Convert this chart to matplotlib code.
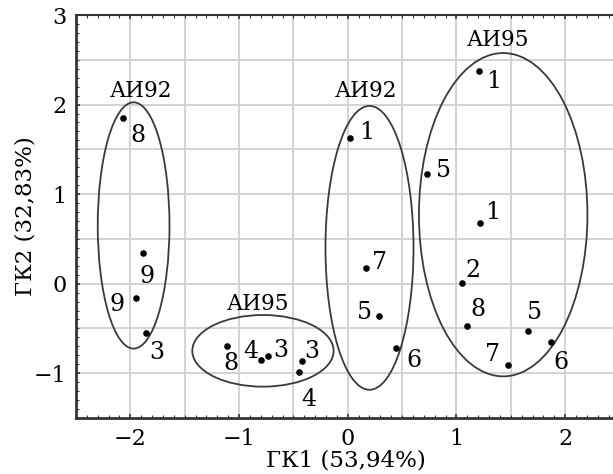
import matplotlib
matplotlib.use("Agg")
import matplotlib.pyplot as plt
from matplotlib.patches import Ellipse
from matplotlib.ticker import MultipleLocator, FuncFormatter

plt.rcParams['font.family'] = ['DejaVu Serif']

# Data points (ГК1, ГК2) and their labels
pt_x = [-2.07, -1.88, -1.95, -1.86,
        -1.11, -0.80, -0.73, -0.42, -0.45,
        0.02, 0.17, 0.29, 0.44,
        0.73, 1.21, 1.22, 1.05, 1.10, 1.66, 1.87, 1.47]
pt_y = [1.85, 0.34, -0.16, -0.55,
        -0.70, -0.85, -0.81, -0.86, -0.99,
        1.63, 0.18, -0.36, -0.72,
        1.23, 2.37, 0.68, 0.01, -0.47, -0.53, -0.65, -0.91]
pt_labels = ['8', '9', '9', '3',
             '8', '4', '3', '3', '4',
             '1', '7', '5', '6',
             '5', '1', '1', '2', '8', '5', '6', '7']
# label placement relative to the point, in pixels (dx to centre, dy to baseline, down positive)
lbl_dx = [15, 4, -19, 11, 4, -10, 12, 10, 10, 17, 13, -15, 18, 16, 14, 12, 11, 11, 6, 10, -15]
lbl_dy = [24, 30, 13, 26, 24, -2, 1, -3, 34, 1, 1, 3, 19, 3, 17, -4, -6, -10, -12, 27, -4]

# Group ellipses: center x, center y, width, height, label
ell_cx = [-1.97, 0.20, 1.43, -0.78]
ell_cy = [0.65, 0.40, 0.77, -0.75]
ell_w = [0.66, 0.81, 1.55, 1.30]
ell_h = [2.75, 3.17, 3.61, 0.80]
grp_labels = ['АИ92', 'АИ92', 'АИ95', 'АИ95']
grp_lx = [-1.90, 0.166, 1.38, -0.83]
grp_ly = [2.086, 2.086, 2.65, -0.293]

fig = plt.figure(figsize=(6.13, 4.74), dpi=100)
ax = fig.add_axes([76/613, 56/474, 543.5/613, 403/474])

ax.set_xlim(-2.5, 2.5)
ax.set_ylim(-1.5, 3.0)

# grid at every 0.5
for gx in [-2.0, -1.5, -1.0, -0.5, 0.0, 0.5, 1.0, 1.5, 2.0]:
    ax.axvline(gx, color='#d0d0d0', lw=1.3, zorder=0)
for gy in [-1.0, -0.5, 0.0, 0.5, 1.0, 1.5, 2.0, 2.5]:
    ax.axhline(gy, color='#d0d0d0', lw=1.3, zorder=0)

for cx, cy, w, h in zip(ell_cx, ell_cy, ell_w, ell_h):
    ax.add_patch(Ellipse((cx, cy), w, h, fill=False, edgecolor='#3a3a3a', lw=1.3, zorder=2))

ax.scatter(pt_x, pt_y, s=14, color='black', zorder=3)
for x, y, t, dx, dy in zip(pt_x, pt_y, pt_labels, lbl_dx, lbl_dy):
    ax.annotate(t, (x, y), xytext=(dx * 0.72, -dy * 0.72), textcoords='offset points',
                fontsize=17, ha='center', va='baseline', zorder=4)

for lx, ly, t in zip(grp_lx, grp_ly, grp_labels):
    ax.text(lx, ly, t, fontsize=15.5, ha='center', va='baseline', zorder=4)

ax.xaxis.set_major_locator(MultipleLocator(1))
ax.yaxis.set_major_locator(MultipleLocator(1))
ax.xaxis.set_minor_locator(MultipleLocator(0.1))
ax.yaxis.set_minor_locator(MultipleLocator(0.1))
ax.tick_params(which='both', direction='in', top=True, right=False,
               color='#333333', labelsize=16)
ax.tick_params(which='major', length=3, width=1.2, pad=7)
ax.tick_params(which='minor', length=2, width=0.8)

def fmt(v, pos):
    return ('\u2212%d' % -v) if v < 0 else '%d' % v
ax.xaxis.set_major_formatter(FuncFormatter(fmt))
ax.yaxis.set_major_formatter(FuncFormatter(fmt))

for s in ['left', 'bottom', 'top']:
    ax.spines[s].set_color('#333333')
ax.spines['left'].set_linewidth(2)
ax.spines['bottom'].set_linewidth(2)
ax.spines['top'].set_linewidth(1.5)
ax.spines['right'].set_visible(False)

ax.set_xlabel('ГК1 (53,94%)', fontsize=16.5)
ax.set_ylabel('ГК2 (32,83%)', fontsize=16.5)
ax.xaxis.set_label_coords((346 - 76) / 543.5, -(461 - 418) / 403, transform=ax.transAxes)
ax.xaxis.label.set_va('center')
ax.yaxis.set_label_coords(-(76 - 26) / 543.5, 0.5, transform=ax.transAxes)
ax.yaxis.label.set_va('center')

fig.savefig('out.png', dpi=100)
